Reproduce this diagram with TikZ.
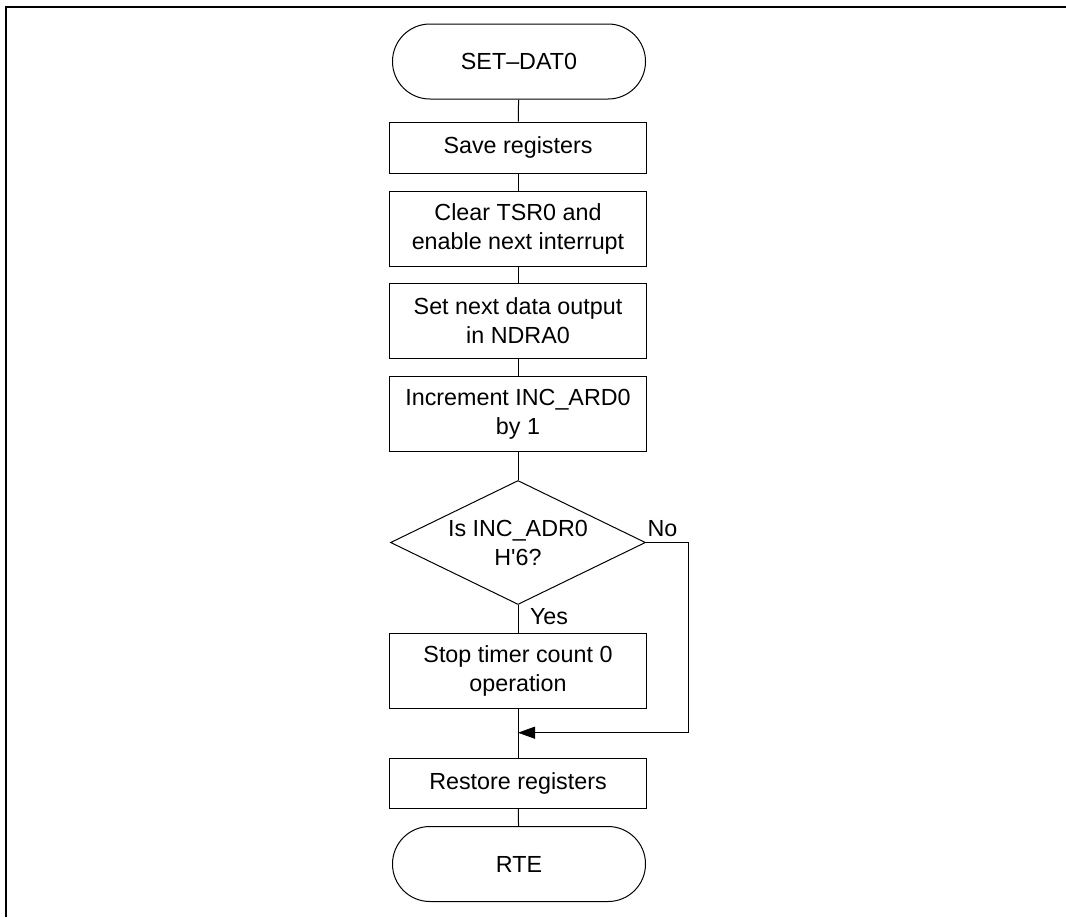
\documentclass[tikz,border=0pt]{standalone}
\usepackage{fontspec}
\setmainfont{Liberation Sans}
\usetikzlibrary{shapes.geometric,arrows.meta}
\begin{document}
\begin{tikzpicture}[x=0.5pt,y=-0.5pt,
  every node/.style={font=\fontsize{11.65pt}{14.5pt}\selectfont, align=center, inner sep=0pt},
  proc/.style={draw, line width=0.5pt, minimum width=128.5pt, minimum height=37.5pt},
  term/.style={draw, line width=0.5pt, rounded corners=18.7pt, minimum width=126.5pt, minimum height=37.5pt},
  decide/.style={draw, line width=0.5pt, diamond, aspect=2.06, minimum width=127.5pt, minimum height=62pt},
  conn/.style={line width=0.5pt},
  lbl/.style={font=\fontsize{11.65pt}{14.5pt}\selectfont}
]
\useasboundingbox (0,0) rectangle (1066,917);
\draw[line width=1pt] (6,917) -- (6,6.7) -- (1066,6.7);

\node[term] (start) at (519,61.5) {SET–DAT0};
\node[proc, minimum height=25.5pt] (save) at (518,147.5) {Save registers};
\node[proc] (clear) at (518,228.5) {Clear TSR0 and\\enable next interrupt};
\node[proc] (setn) at (518,321) {Set next data output\\in NDRA0};
\node[proc] (incr) at (518,414) {Increment INC\_ARD0\\by 1};
\node[decide] (dec) at (518,542.5) {Is INC\_ADR0\\H\textquotesingle 6?};
\node[proc] (stop) at (518,670.5) {Stop timer count 0\\operation};
\coordinate (merge) at (518,732.7);
\coordinate (rcorner) at (688.3,542.5);
\coordinate (rbottom) at (688.3,732.7);
\node[proc, minimum height=25pt] (restore) at (518,783.3) {Restore registers};
\node[term] (rte) at (519,864) {RTE};

\node[lbl] (nolbl) at (662.5,529) {No};
\node[lbl] (yeslbl) at (549,617) {Yes};

\draw[conn] (start) -- (save);
\draw[conn] (save) -- (clear);
\draw[conn] (clear) -- (setn);
\draw[conn] (setn) -- (incr);
\draw[conn] (incr) -- (dec);
\draw[conn] (dec) -- (stop);
\draw[conn] (stop) -- (restore);
\draw[conn] (restore) -- (rte);
\draw[conn, -{Triangle[length=8.5pt,width=6pt]}] (dec.east) -- (rcorner) -- (rbottom) -- (merge);
\end{tikzpicture}
\end{document}
